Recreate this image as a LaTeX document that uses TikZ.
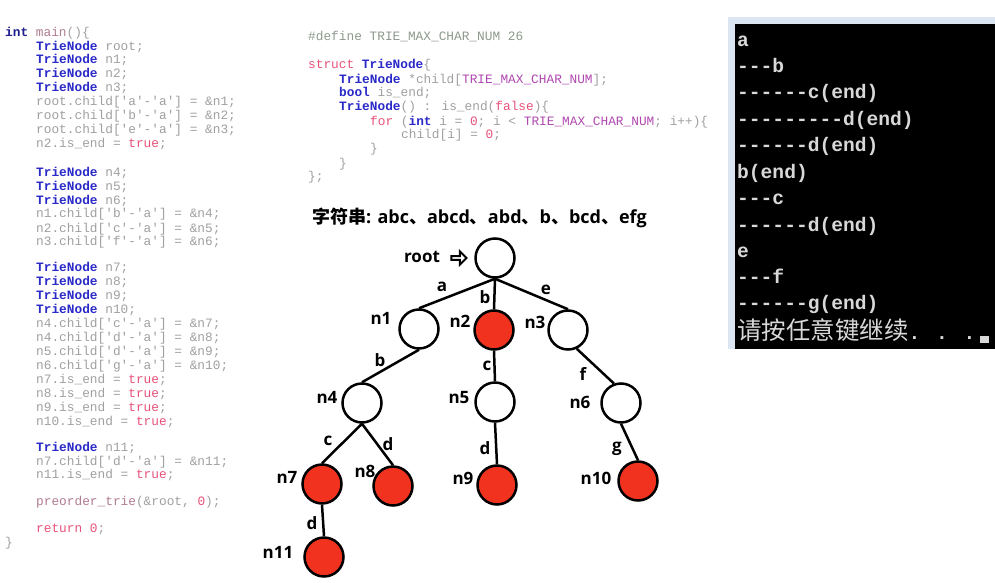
\documentclass[tikz,border=0pt]{standalone}
\usepackage{fontspec}
\usetikzlibrary{shapes.arrows}
\newfontfamily\codefont{Liberation Mono}
\newfontfamily\cjk{Noto Sans CJK SC}
\newfontfamily\lab{Open Sans}
\definecolor{cgray}{HTML}{A0A0A0}
\definecolor{cblue}{HTML}{2A2AC8}
\definecolor{cnavy}{HTML}{1E1E8C}
\definecolor{cpink}{HTML}{E8527A}
\definecolor{cmauve}{HTML}{B07C92}
\definecolor{cpurple}{HTML}{B048B0}
\definecolor{cdef}{HTML}{8E9A8E}
\definecolor{nred}{HTML}{F0321E}
\definecolor{termc}{HTML}{D8D8D8}
\definecolor{framec}{HTML}{DCE5F2}
\newcommand\tn{{\color{cblue}\bfseries TrieNode}}
\newcommand\pk[1]{{\color{cpink}#1}}
\newcommand\kb[1]{{\color{cblue}\bfseries #1}}
\newcommand\pu[1]{{\color{cpurple}#1}}
\newcommand\cjkb[1]{{\cjk\bfseries #1}}
\begin{document}
\begin{tikzpicture}[x=1pt,y=-1pt,
  code/.style={anchor=base west, inner sep=0pt, font=\codefont\fontsize{12.8}{14}\selectfont, text=cgray},
  termtxt/.style={anchor=base west, inner sep=0pt, font=\codefont\bfseries\fontsize{19.6}{22}\selectfont, text=termc},
  tnode/.style={circle, draw=black, line width=2.5pt, minimum size=39pt, inner sep=0pt, fill=white},
  endnode/.style={tnode, fill=nred},
  lbl/.style={font=\lab\bfseries\fontsize{17}{19}\selectfont, inner sep=0pt},
  edge/.style={line width=2.5pt}]
\useasboundingbox (0,0) rectangle (995,583);
\fill[white] (0,0) rectangle (995,583);

% ---------- left code ----------
\node[code] (l01) at (5,37)  {{\color{cnavy}\bfseries int} {\color{cmauve}main}()\{};
\node[code] (l02) at (36,51) {\tn{} root;};
\node[code] (l03) at (36,64) {\tn{} n1;};
\node[code] (l04) at (36,78) {\tn{} n2;};
\node[code] (l05) at (36,92) {\tn{} n3;};
\node[code] (l06) at (36,106) {root.child['a'-'a'] = \&n1;};
\node[code] (l07) at (36,120) {root.child['b'-'a'] = \&n2;};
\node[code] (l08) at (36,133) {root.child['e'-'a'] = \&n3;};
\node[code] (l09) at (36,147) {n2.is\_end = \pk{true};};
\node[code] (l10) at (36,176) {\tn{} n4;};
\node[code] (l11) at (36,190) {\tn{} n5;};
\node[code] (l12) at (36,204) {\tn{} n6;};
\node[code] (l13) at (36,217) {n1.child['b'-'a'] = \&n4;};
\node[code] (l14) at (36,232) {n2.child['c'-'a'] = \&n5;};
\node[code] (l15) at (36,245) {n3.child['f'-'a'] = \&n6;};
\node[code] (l16) at (36,271) {\tn{} n7;};
\node[code] (l17) at (36,285) {\tn{} n8;};
\node[code] (l18) at (36,299) {\tn{} n9;};
\node[code] (l19) at (36,313) {\tn{} n10;};
\node[code] (l20) at (36,327) {n4.child['c'-'a'] = \&n7;};
\node[code] (l21) at (36,341) {n4.child['d'-'a'] = \&n8;};
\node[code] (l22) at (36,355) {n5.child['d'-'a'] = \&n9;};
\node[code] (l23) at (36,369) {n6.child['g'-'a'] = \&n10;};
\node[code] (l24) at (36,383) {n7.is\_end = \pk{true};};
\node[code] (l25) at (36,397) {n8.is\_end = \pk{true};};
\node[code] (l26) at (36,411) {n9.is\_end = \pk{true};};
\node[code] (l27) at (36,425) {n10.is\_end = \pk{true};};
\node[code] (l28) at (36,451) {\tn{} n11;};
\node[code] (l29) at (36,465) {n7.child['d'-'a'] = \&n11;};
\node[code] (l30) at (36,478) {n11.is\_end = \pk{true};};
\node[code] (l31) at (36,505) {{\color{cmauve}preorder\_trie}(\&root, \pk{0});};
\node[code] (l32) at (36,532) {\pk{return} \pk{0};};
\node[code] (l33) at (5,546) {\}};

% ---------- middle code ----------
\node[code, text=cdef] (m01) at (308,41) {\#define TRIE\_MAX\_CHAR\_NUM 26};
\node[code] (m02) at (308,69) {\pk{struct} \kb{TrieNode}\{};
\node[code] (m03) at (339,84) {\tn{} *child[\pu{TRIE\_MAX\_CHAR\_NUM}];};
\node[code] (m04) at (339,97) {\kb{bool} is\_end;};
\node[code] (m05) at (339,111) {\tn() : is\_end(\pk{false})\{};
\node[code] (m06) at (370,125) {\pk{for} (\kb{int} i = \pk{0}; i < \pu{TRIE\_MAX\_CHAR\_NUM}; i++)\{};
\node[code] (m07) at (401,139) {child[i] = \pk{0};};
\node[code] (m08) at (370,152) {\}};
\node[code] (m09) at (339,167) {\}};
\node[code] (m10) at (308,180) {\};};

% ---------- terminal ----------
\fill[framec] (728,17) rectangle (995,349);
\fill[black] (735,24) rectangle (995,349);
\node[termtxt] (t01) at (737,47) {a};
\node[termtxt] (t02) at (737,73) {---b};
\node[termtxt] (t03) at (737,99) {------c(end)};
\node[termtxt] (t04) at (737,125) {---------d(end)};
\node[termtxt] (t05) at (737,151) {------d(end)};
\node[termtxt] (t06) at (737,178) {b(end)};
\node[termtxt] (t07) at (737,204) {---c};
\node[termtxt] (t08) at (737,231) {------d(end)};
\node[termtxt] (t09) at (737,257) {e};
\node[termtxt] (t10) at (737,283) {---f};
\node[termtxt] (t11) at (737,309) {------g(end)};
\node[termtxt] (t12) at (737,339) {{\cjk\mdseries\fontsize{24.5}{26}\selectfont\color{termc}请按任意键继续}. . .};
\fill[termc] (980,336) rectangle (989,343);

% ---------- title ----------
\node[anchor=west, inner sep=0pt, font=\lab\bfseries\fontsize{18}{20}\selectfont] (title) at (312,218)
  {\cjkb{字符串}: abc\cjkb{、}abcd\cjkb{、}abd\cjkb{、}b\cjkb{、}bcd\cjkb{、}efg};

% ---------- trie ----------
\node[tnode]   (root) at (495,258) {};
\node[tnode]   (n1) at (419,329) {};
\node[endnode] (n2) at (494,330) {};
\node[tnode]   (n3) at (568,330) {};
\node[tnode]   (n4) at (362,403) {};
\node[tnode]   (n5) at (495,402) {};
\node[tnode]   (n6) at (621,403) {};
\node[endnode] (n7) at (322,484) {};
\node[endnode] (n8) at (393,486) {};
\node[endnode] (n9) at (497,485) {};
\node[endnode] (n10) at (638,481) {};
\node[endnode] (n11) at (324,557) {};

\draw[edge] (root.south) -- (n1.north);
\draw[edge] (root.south) -- (n2.north);
\draw[edge] (root.south) -- (n3.north);
\draw[edge] (n1.south) -- (n4.north);
\draw[edge] (n2.south) -- (n5.north);
\draw[edge] (n3.-65) -- (n6.110);
\draw[edge] (n4.south) -- (n7.north);
\draw[edge] (n4.south) -- (n8.north);
\draw[edge] (n5.south) -- (n9.north);
\draw[edge] (n6.south) -- (n10.north);
\draw[edge] (n7.south) -- (n11.north);

% root label and arrow
\node[lbl] (rootlbl) at (422,257) {root};
\node[single arrow, draw=black, line width=2pt, fill=white, inner sep=0pt,
      minimum height=15pt, minimum width=13pt, single arrow head extend=2.5pt] (rarrow) at (458,258) {};

% node labels
\node[lbl] (ln1) at (381,318) {n1};
\node[lbl] (ln2) at (460,321) {n2};
\node[lbl] (ln3) at (535,322) {n3};
\node[lbl] (ln4) at (327,397) {n4};
\node[lbl] (ln5) at (459,398) {n5};
\node[lbl] (ln6) at (580,402) {n6};
\node[lbl] (ln7) at (287,477) {n7};
\node[lbl] (ln8) at (365,471) {n8};
\node[lbl] (ln9) at (463,478) {n9};
\node[lbl] (ln10) at (596,478) {n10};
\node[lbl] (ln11) at (278,552) {n11};

% edge labels
\node[lbl] (ea) at (442,287) {a};
\node[lbl] (eb1) at (485,297) {b};
\node[lbl] (ee) at (546,290) {e};
\node[lbl] (eb2) at (380,360) {b};
\node[lbl] (ec1) at (487,366) {c};
\node[lbl] (ef) at (583,374) {f};
\node[lbl] (ec2) at (328,441) {c};
\node[lbl] (ed1) at (388,444) {d};
\node[lbl] (ed2) at (485,448) {d};
\node[lbl] (eg) at (617,449) {g};
\node[lbl] (ed3) at (312,523) {d};
\end{tikzpicture}
\end{document}
